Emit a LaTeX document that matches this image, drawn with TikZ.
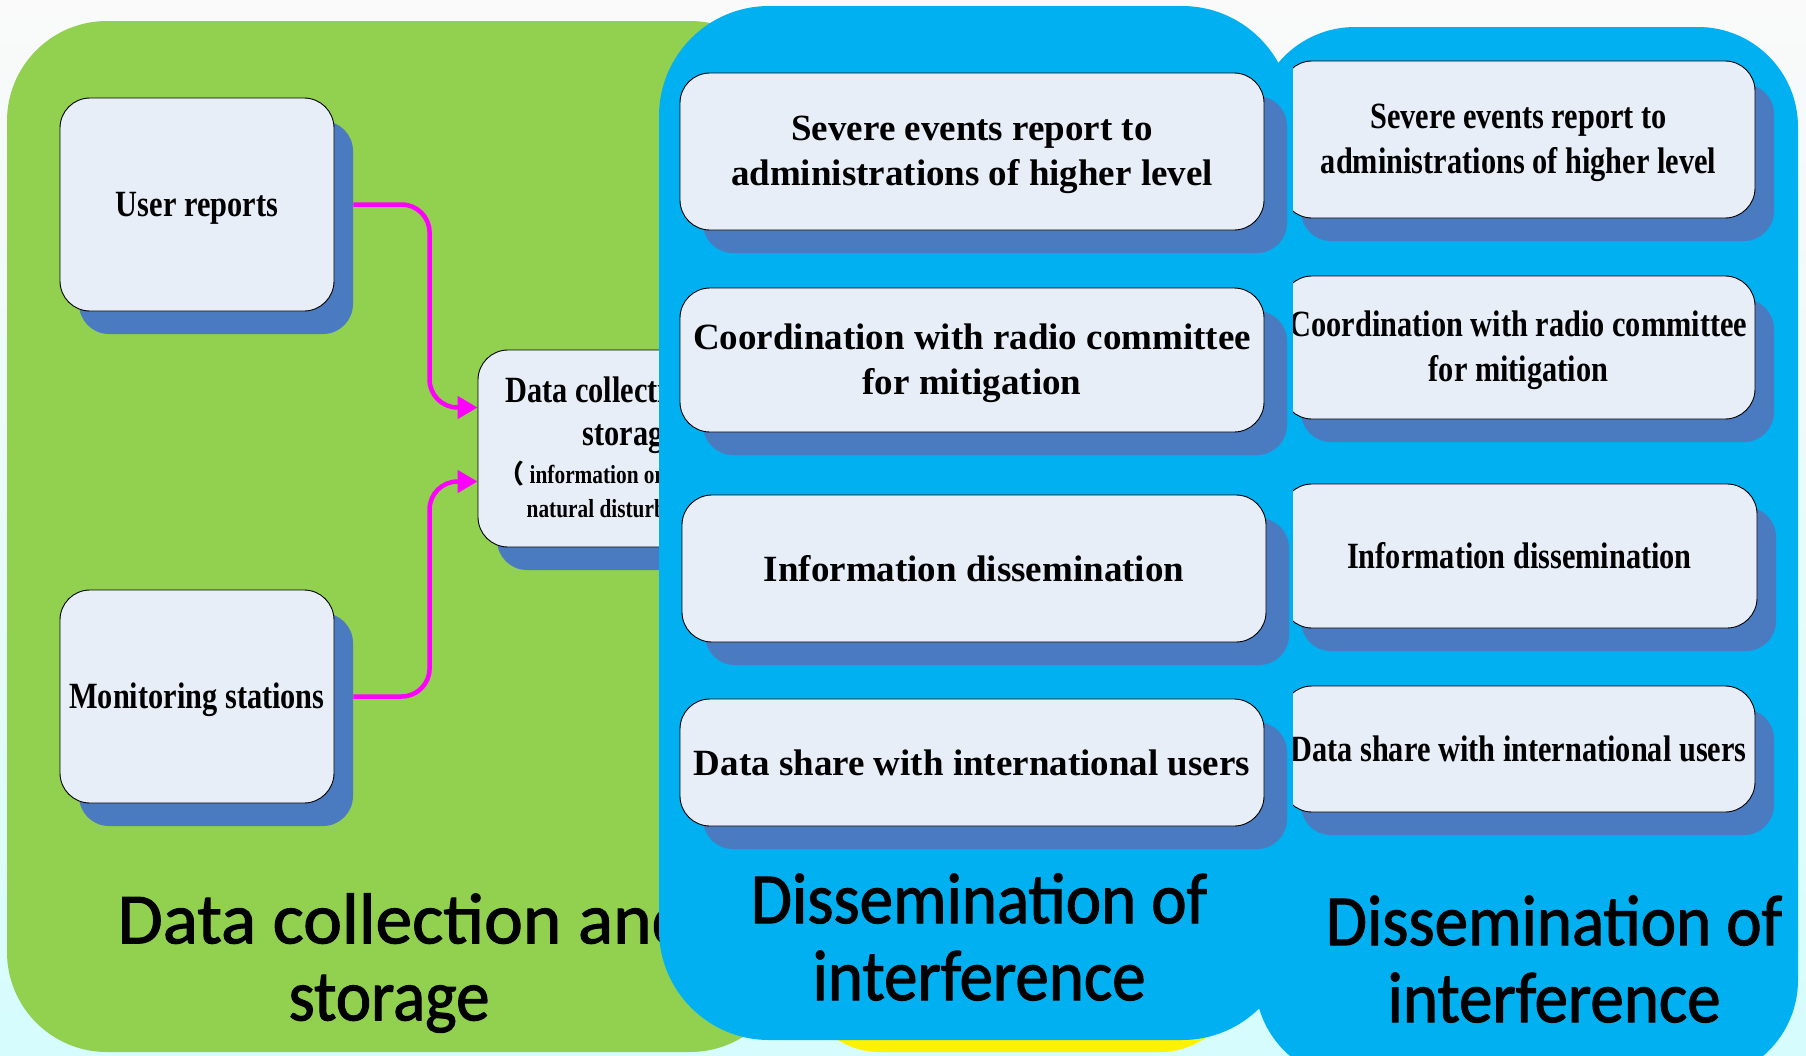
\documentclass[tikz,border=0pt]{standalone}
\usepackage{fontspec}
\setmainfont{Liberation Serif}
\newfontfamily\narrowserif[FakeStretch=0.82]{Liberation Serif}
\newfontfamily\titlesans[FakeStretch=0.93,FakeBold=1.5]{Carlito}
\newfontfamily\titlewide[FakeStretch=1.02,FakeBold=1.5]{Carlito}
\newfontfamily\cjk{Noto Sans CJK SC}
\usepackage{xcolor}
\usetikzlibrary{
    arrows.meta,
    shadows
}
\definecolor{leafgreen}{HTML}{92D050}
\definecolor{skyblue}{HTML}{00B0F0}
\definecolor{cardfill}{HTML}{E8EEF8}
\definecolor{cardshadow}{HTML}{4A7AC0}
\definecolor{linkpink}{HTML}{FF00FF}
\definecolor{pagetop}{HTML}{FAFAFA}
\definecolor{pagebottom}{HTML}{D6FCFD}
\newcommand{\upstrut}{\rule{0pt}{32pt}}

\begin{document}
\begin{tikzpicture}[
    x=1pt, y=-1pt,
    cardbase/.style={
        draw=black,
        line width=0.9pt,
        fill=cardfill,
        rounded corners=30pt,
        align=center,
        inner sep=0pt
    },
    card/.style={
        cardbase,
        font=\bfseries\fontsize{37}{45}\selectfont,
        general shadow={fill=cardshadow, shadow xshift=23pt, shadow yshift=-23pt}
    },
    narrowcard/.style={
        cardbase,
        font=\narrowserif\bfseries\fontsize{37}{45}\selectfont,
        general shadow={fill=cardshadow, shadow xshift=19pt, shadow yshift=-23pt}
    },
    lowered/.style={execute at begin node=\upstrut},
    feed/.style={
        draw=linkpink,
        line width=4.5pt,
        rounded corners=28pt,
        -{Triangle[length=20pt, width=22pt]}
    },
    paneltitle/.style={
        align=center,
        font=\titlesans\fontsize{72}{77}\selectfont
    }
]
    \useasboundingbox (0, 0) rectangle (1806, 1055);
    \shade[top color=pagetop, bottom color=pagebottom] (0, 0) rectangle (1806, 1055);

    % collection side
    \fill[leafgreen, rounded corners=100pt] (7, 21) rectangle (790, 1052);
    \node[narrowcard, lowered, minimum width=274pt, minimum height=213pt] (users) at (197, 204.5) {User reports};
    \node[narrowcard, lowered, minimum width=274pt, minimum height=213pt] (stations) at (197, 696.5) {Monitoring stations};
    \node[narrowcard, minimum width=304pt, minimum height=197pt] (store) at (630, 448.5)
        {Data collection and\\[-2pt]storage\\[-7pt]
         \fontsize{26}{34}\selectfont{\cjk （}\hspace{5pt}information on space and\\[-11pt]
         \fontsize{26}{34}\selectfont natural disturbance{\cjk ）}};
    \draw[feed] ([xshift=19pt]users.east) -| ([xshift=-48pt, yshift=41pt]store.west) -- ([yshift=41pt]store.west);
    \draw[feed] ([xshift=19pt]stations.east) -| ([xshift=-48pt, yshift=-33pt]store.west) -- ([yshift=-33pt]store.west);
    \node[paneltitle] (collecttitle) at (389, 963) {\hbox to 30pt{}\titlewide Data collection and\\storage};

    % dissemination panels
    \fill[yellow, rounded corners=80pt] (800, 700) rectangle (1240, 1052);
    \fill[skyblue, rounded corners=110pt] (659, 6) rectangle (1292, 1040);
    \fill[skyblue, rounded corners=100pt] (1255, 27) rectangle (1798, 1080);

    \node[card, minimum width=584pt, minimum height=157pt] (severe) at (972, 151.5) {\upstrut Severe events report to\\administrations of higher level};
    \node[card, minimum width=584pt, minimum height=144pt] (coord) at (972, 360) {\upstrut Coordination with radio committee\\for mitigation};
    \node[card, minimum width=584pt, minimum height=147pt] (inform) at (974, 568.5) {Information dissemination};
    \node[card, minimum width=584pt, minimum height=127pt] (share) at (972, 762.5) {Data share with international users};
    \node[paneltitle] (spreadtitle) at (979, 937) {Dissemination of\\interference};

    \begin{scope}
        \clip (1293, 0) rectangle (1806, 1055);
        \node[narrowcard, minimum width=473pt, minimum height=157pt] (severeb) at (1518.5, 139.5) {\upstrut Severe events report to\\administrations of higher level};
        \node[narrowcard, minimum width=473pt, minimum height=143pt] (coordb) at (1518.5, 347.5) {\upstrut Coordination with radio committee\\for mitigation};
        \node[narrowcard, minimum width=475pt, minimum height=144pt] (informb) at (1519.5, 556) {Information dissemination};
        \node[narrowcard, minimum width=473pt, minimum height=126pt] (shareb) at (1518.5, 749) {Data share with international users};
    \end{scope}
    \node[paneltitle] (spreadtitleb) at (1554, 959) {Dissemination of\\interference};
\end{tikzpicture}
\end{document}
